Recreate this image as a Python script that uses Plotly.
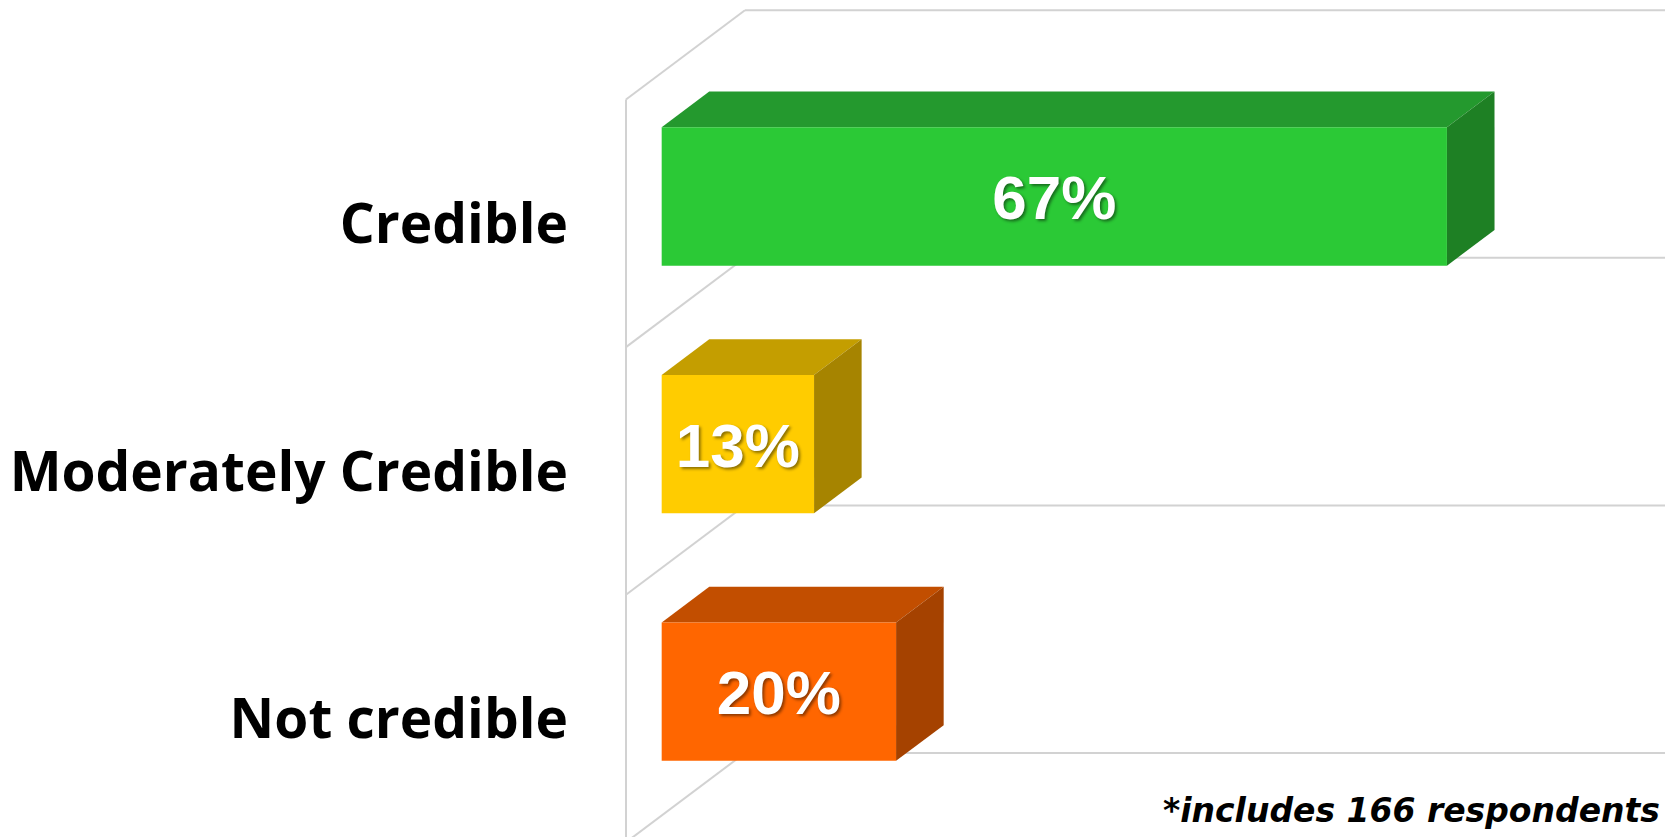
import plotly.graph_objects as go

# Survey results (share of respondents, %)
categories = ["Credible", "Moderately Credible", "Not credible"]
values = [67, 13, 20]
value_labels = ["67%", "13%", "20%"]
footnote = "*includes 166 respondents"

# Face colours for each bar: front, top, side
front_colors = ["#2BC936", "#FFCC00", "#FF6600"]
top_colors = ["#24992E", "#C49E00", "#C24E00"]
side_colors = ["#1E8024", "#A68400", "#A54200"]

# Oblique 3D projection, expressed in axis units
DEPTH_X = 10.15      # full wall depth along the value axis (%)
DEPTH_Y = 0.3607     # full wall depth along the category axis
BAR_FRONT = 0.30     # bar depth span, as fraction of the wall depth
BAR_BACK = 0.70
BAR_HALF = 0.2793    # half bar thickness (category units)

X_RANGE = [-53.41, 88.65]
Y_RANGE = [2.4786, -0.9018]
GRID = "#D2D2D2"

fig = go.Figure()


def poly(xs, ys, color):
    fig.add_trace(go.Scatter(
        x=xs + [xs[0]], y=ys + [ys[0]], mode="lines", fill="toself",
        fillcolor=color, line=dict(width=0, color=color),
        hoverinfo="skip", showlegend=False))


def seg(xs, ys):
    fig.add_trace(go.Scatter(
        x=xs, y=ys, mode="lines", line=dict(color=GRID, width=2),
        hoverinfo="skip", showlegend=False))


# Walls: category separators on the back wall and the base wall
n = len(categories)
bounds = [i - 0.5 for i in range(n + 1)]
for b in bounds:
    seg([DEPTH_X, X_RANGE[1]], [b - DEPTH_Y, b - DEPTH_Y])
    seg([DEPTH_X, 0], [b - DEPTH_Y, b])
seg([0, 0], [bounds[0], bounds[-1] + 0.2])

# Bars as 3D blocks
for c, (v, fc, tc, sc) in enumerate(zip(values, front_colors, top_colors, side_colors)):
    fx0 = BAR_FRONT * DEPTH_X
    bx0 = BAR_BACK * DEPTH_X
    fy = c - BAR_FRONT * DEPTH_Y
    by = c - BAR_BACK * DEPTH_Y
    # top face
    poly([fx0, fx0 + v, bx0 + v, bx0],
         [fy - BAR_HALF, fy - BAR_HALF, by - BAR_HALF, by - BAR_HALF], tc)
    # side face
    poly([fx0 + v, bx0 + v, bx0 + v, fx0 + v],
         [fy - BAR_HALF, by - BAR_HALF, by + BAR_HALF, fy + BAR_HALF], sc)
    # front face
    poly([fx0, fx0 + v, fx0 + v, fx0],
         [fy - BAR_HALF, fy - BAR_HALF, fy + BAR_HALF, fy + BAR_HALF], fc)

# Value labels centred on each front face
fig.add_trace(go.Scatter(
    x=[BAR_FRONT * DEPTH_X + v / 2 for v in values],
    y=[c - BAR_FRONT * DEPTH_Y + 0.028 for c in range(n)],
    mode="text", text=value_labels, textposition="middle center",
    textfont=dict(family="Liberation Sans", size=62, color="white",
                  weight="bold", shadow="2px 2px 3px rgba(0,0,0,0.45)"),
    hoverinfo="skip", showlegend=False))

# Category labels
fig.add_trace(go.Scatter(
    x=[-4.95] * n, y=[c + 0.024 for c in range(n)],
    mode="text", text=categories, textposition="middle left",
    textfont=dict(family="Open Sans", size=55, color="black", weight="bold"),
    hoverinfo="skip", showlegend=False))

fig.add_annotation(
    text=footnote, xref="paper", yref="paper", x=1161 / 1665, y=1 - 810 / 837,
    xanchor="left", yanchor="middle", showarrow=False,
    font=dict(family="DejaVu Sans", size=33, color="black", weight="bold",
              style="italic"))

fig.update_layout(
    width=1665, height=837, autosize=False,
    margin=dict(l=0, r=0, t=0, b=0),
    paper_bgcolor="white", plot_bgcolor="white",
    xaxis=dict(range=X_RANGE, visible=False, fixedrange=True),
    yaxis=dict(range=Y_RANGE, visible=False, fixedrange=True),
)

fig.write_html("out.html")
